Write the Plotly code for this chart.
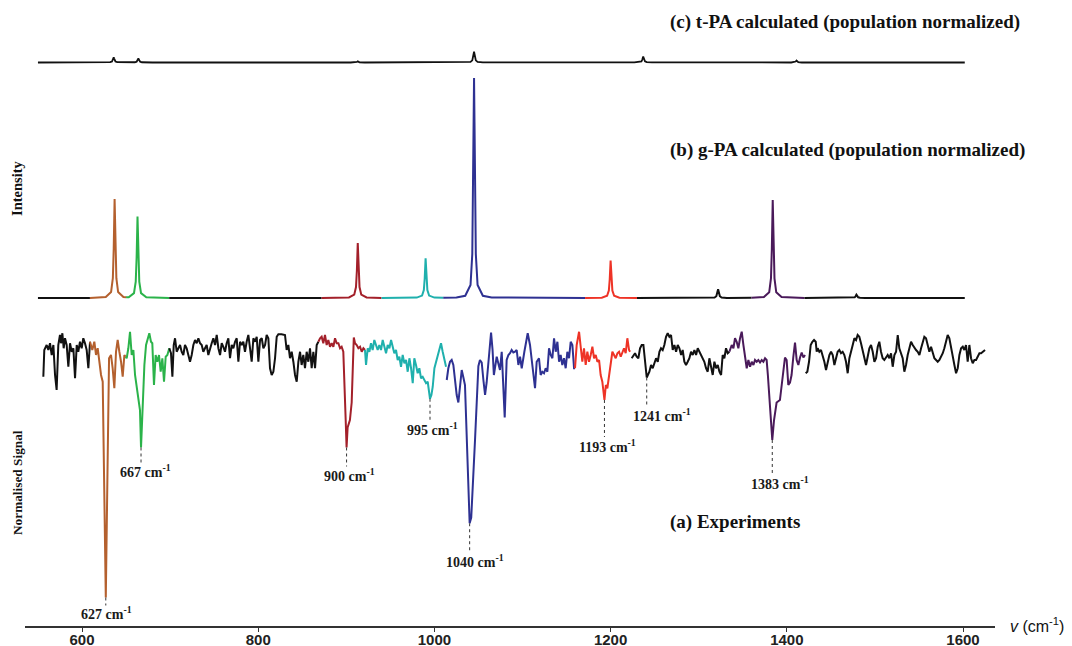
import plotly.graph_objects as go

# ---------------- experimental spectrum (a): (wavenumber cm-1, normalised signal) ----------------
exp_black1 = [(556.1, 0.893), (557.2, 1.0), (559.9, 1.02), (561.8, 1.0), (563.7, 1.027), (565.6, 0.98),
              (567.5, 1.02), (569.4, 0.9), (571.2, 0.84), (573.1, 1.02), (575.0, 1.06), (576.2, 1.027),
              (577.7, 1.067), (579.2, 1.007), (580.7, 1.047), (582.6, 1.02), (584.5, 0.933), (586.4, 1.027),
              (588.3, 0.993), (590.2, 1.007), (592.1, 0.887), (594.0, 1.02), (595.8, 0.993), (597.7, 1.033),
              (599.6, 1.007), (601.5, 1.047), (603.4, 1.027), (605.3, 1.0), (607.2, 0.927), (609.1, 1.033)]
exp_brown = [(609.1, 1.033), (611.7, 1.0), (614.0, 1.033), (615.9, 0.98), (617.8, 1.007), (619.7, 0.953),
             (621.6, 0.9), (623.5, 0.873), (627.0, 0.01), (630.7, 0.967), (632.9, 0.98), (634.8, 0.927),
             (636.7, 0.847), (638.6, 0.993), (640.5, 1.04), (642.4, 0.993), (644.3, 0.953), (646.2, 0.893),
             (648.1, 0.98), (649.6, 0.973)]
exp_green = [(649.6, 0.973), (650.7, 0.967), (652.6, 1.007), (654.5, 1.073), (656.4, 0.98), (658.3, 1.0),
             (660.2, 0.9), (662.1, 0.853), (664.0, 0.8), (665.8, 0.76), (667.0, 0.61), (668.8, 0.78),
             (670.8, 0.94), (672.7, 1.02), (674.5, 1.047), (676.4, 1.067), (678.3, 1.033), (679.8, 1.027),
             (681.7, 0.86), (683.6, 0.98), (685.5, 0.953), (687.4, 0.98), (689.3, 0.913), (691.2, 0.967),
             (693.1, 0.873), (695.0, 0.973), (696.9, 0.98), (699.1, 1.007)]
exp_black2 = [(699.1, 1.007), (701.0, 0.987), (702.6, 0.893), (704.1, 1.02), (705.6, 1.047), (707.5, 0.993),
              (709.4, 1.007), (711.3, 1.02), (713.1, 0.993), (715.0, 0.98), (716.9, 1.02), (718.8, 1.007),
              (720.7, 0.98), (722.6, 0.953), (724.5, 0.98), (726.4, 1.02), (728.3, 1.04), (730.2, 1.027),
              (732.1, 1.047), (734.0, 1.027), (735.9, 1.02), (737.7, 0.993), (739.6, 1.007), (741.5, 1.02),
              (743.4, 0.98), (745.3, 1.007), (747.2, 1.027), (749.1, 1.047), (751.0, 1.02), (752.9, 1.06),
              (754.8, 1.007), (756.7, 0.98), (758.6, 1.027), (760.4, 1.013), (762.3, 0.993), (764.2, 1.027),
              (766.1, 1.047), (768.0, 0.967), (769.9, 1.02), (771.8, 1.007), (773.7, 1.033), (775.6, 1.047),
              (777.5, 0.953), (779.4, 1.033), (781.3, 1.02), (783.1, 1.033), (785.0, 0.993), (786.9, 1.033),
              (788.8, 1.06), (790.7, 1.007), (792.6, 0.953), (794.5, 1.047), (796.4, 1.033), (798.3, 1.053),
              (800.2, 0.953), (802.1, 1.04), (804.0, 1.047), (805.9, 1.007), (807.8, 1.02), (809.6, 1.06),
              (811.5, 1.047), (813.4, 0.927), (815.3, 0.9), (817.2, 0.913), (819.1, 0.967), (821.0, 1.053),
              (822.9, 1.063), (826.5, 1.063), (830.4, 1.06), (832.3, 1.0), (834.2, 1.02), (836.1, 0.967),
              (838.0, 0.993), (839.9, 0.953), (841.8, 0.9), (843.7, 0.873), (845.6, 0.953), (847.5, 0.993),
              (849.3, 0.94), (851.2, 0.98), (853.1, 0.927), (855.0, 0.993), (856.9, 0.953), (858.8, 1.007),
              (860.7, 0.927), (862.6, 0.993), (864.5, 0.927), (866.4, 1.02), (868.3, 1.033)]
exp_darkred = [(868.3, 1.033), (870.2, 1.047), (872.0, 1.053), (873.9, 1.027), (875.8, 1.06), (877.7, 1.02),
               (879.6, 1.04), (881.5, 1.013), (883.4, 1.027), (885.3, 1.013), (887.2, 1.047), (889.1, 1.027),
               (891.0, 1.027), (892.9, 1.007), (894.7, 1.013), (896.6, 0.993), (899.3, 0.72), (900.3, 0.61),
               (901.5, 0.69), (904.1, 0.72), (906.1, 0.79), (908.5, 1.05), (909.9, 1.027), (911.8, 1.02),
               (913.7, 1.007), (915.6, 1.013), (917.5, 0.993), (919.4, 1.007), (921.2, 1.0)]
exp_cyan = [(921.2, 1.0), (922.4, 0.94), (924.3, 1.007), (926.2, 0.993), (928.0, 1.027), (929.9, 1.0),
            (931.8, 1.04), (933.7, 1.02), (935.6, 1.0), (937.5, 1.02), (939.4, 1.0), (941.3, 1.04),
            (943.2, 1.013), (945.1, 0.987), (947.0, 1.02), (948.9, 1.007), (950.8, 1.04), (952.6, 1.007),
            (954.5, 0.987), (956.4, 1.0), (958.3, 0.96), (960.2, 0.973), (962.1, 0.933), (964.0, 0.98),
            (965.9, 0.947), (967.8, 0.96), (969.7, 0.913), (971.6, 0.967), (973.5, 0.927), (975.4, 0.867),
            (977.2, 0.967), (979.1, 0.94), (981.0, 0.907), (982.9, 0.927), (984.8, 0.887), (986.7, 0.893),
            (988.6, 0.88), (990.5, 0.867), (992.4, 0.873), (995.0, 0.805), (996.6, 0.82), (998.1, 0.853),
            (1000.0, 0.927), (1001.8, 0.953), (1003.7, 0.98), (1005.6, 1.0), (1007.5, 1.027), (1009.4, 0.993),
            (1011.3, 0.967), (1013.2, 0.933)]
exp_blue = [(1014.0, 0.88), (1015.8, 0.927), (1017.7, 0.953), (1019.6, 0.96), (1021.5, 0.94), (1023.4, 0.87),
            (1025.3, 0.82), (1027.2, 0.79), (1029.1, 0.87), (1031.0, 0.92), (1032.9, 0.89), (1034.7, 0.86),
            (1040.0, 0.307), (1041.8, 0.33), (1046.1, 0.64), (1049.9, 0.935), (1051.7, 0.96), (1053.7, 0.95),
            (1055.6, 0.88), (1057.5, 0.82), (1059.3, 0.87), (1061.2, 0.94), (1064.3, 1.07), (1066.0, 1.0),
            (1067.5, 0.9), (1070.7, 0.973), (1072.6, 0.95), (1074.4, 0.92), (1076.4, 0.993), (1079.8, 0.73),
            (1082.0, 0.96), (1084.0, 0.98), (1085.8, 0.987), (1087.7, 1.0), (1089.6, 0.99), (1091.5, 0.993),
            (1093.4, 1.0), (1095.3, 0.94), (1097.2, 0.973), (1099.1, 0.927), (1102.1, 0.993), (1105.9, 1.067),
            (1108.5, 1.02), (1110.4, 0.967), (1112.3, 0.913), (1114.2, 0.847), (1116.1, 0.953), (1118.7, 0.967),
            (1120.6, 0.9), (1122.5, 0.913), (1124.4, 0.907), (1126.3, 0.927), (1128.2, 0.913), (1130.1, 1.007),
            (1132.0, 0.98), (1133.9, 0.967), (1135.8, 1.047), (1137.7, 0.993), (1139.6, 1.033), (1141.5, 0.953),
            (1143.3, 0.98), (1145.2, 0.94), (1147.1, 0.967), (1149.0, 0.927), (1150.9, 0.993), (1152.8, 0.967),
            (1154.7, 1.033), (1156.6, 1.02), (1158.5, 0.927), (1159.6, 0.927)]
exp_red = [(1159.6, 0.927), (1161.5, 1.02), (1164.2, 1.073), (1166.0, 1.02), (1167.9, 0.953), (1169.8, 1.007),
           (1171.7, 0.94), (1173.6, 0.993), (1175.5, 0.953), (1177.4, 0.98), (1179.3, 1.013), (1181.2, 0.967),
           (1183.1, 0.98), (1185.0, 0.953), (1186.9, 0.96), (1188.7, 0.9), (1190.6, 0.873), (1193.0, 0.8),
           (1194.6, 0.86), (1196.3, 0.847), (1198.2, 0.9), (1200.1, 0.953), (1202.0, 0.993), (1203.9, 0.98),
           (1205.8, 0.967), (1207.7, 0.987), (1209.6, 0.993), (1211.5, 0.973), (1213.3, 0.993), (1215.2, 1.007),
           (1217.1, 0.987), (1219.0, 1.047), (1220.9, 1.0), (1222.1, 0.993)]
exp_black3 = [(1223.9, 0.967), (1225.8, 0.98), (1227.7, 0.987), (1229.6, 0.973), (1231.5, 0.967),
              (1233.4, 1.007), (1235.3, 1.02), (1237.2, 1.02), (1239.1, 0.953), (1241.0, 0.89), (1244.0, 0.913),
              (1245.9, 0.94), (1247.8, 0.927), (1249.7, 0.953), (1251.6, 0.967), (1253.5, 0.953), (1255.4, 0.993),
              (1257.2, 1.007), (1259.1, 1.0), (1261.0, 1.02), (1262.9, 1.053), (1264.8, 1.067), (1266.7, 1.053),
              (1268.6, 1.06), (1270.5, 1.0), (1272.4, 1.02), (1274.3, 0.993), (1276.2, 1.02), (1278.1, 1.007),
              (1280.0, 0.98), (1281.8, 1.0), (1283.7, 0.953), (1285.6, 0.94), (1287.5, 0.953), (1289.4, 0.967),
              (1291.3, 0.993), (1293.2, 0.98), (1295.1, 1.0), (1297.0, 0.98), (1298.9, 1.007), (1300.8, 0.993),
              (1302.7, 0.98), (1304.6, 0.967), (1306.4, 0.953), (1308.3, 0.927), (1310.2, 0.913), (1312.1, 0.967),
              (1314.0, 0.927), (1315.9, 0.9), (1317.8, 0.953), (1319.7, 0.927), (1321.6, 0.94), (1323.5, 0.913),
              (1325.4, 0.9), (1327.2, 0.98), (1329.1, 0.967), (1331.0, 1.007), (1332.9, 0.987), (1334.8, 0.993)]
exp_purple = [(1334.8, 0.993), (1337.5, 1.02), (1339.4, 1.007), (1341.2, 1.047), (1343.1, 1.033), (1345.0, 1.007),
              (1346.9, 1.047), (1348.8, 1.073), (1350.7, 1.02), (1352.6, 0.967), (1354.5, 0.927), (1356.4, 0.96),
              (1358.3, 0.933), (1360.2, 0.953), (1362.1, 0.94), (1363.9, 0.96), (1365.8, 0.953), (1367.7, 0.96),
              (1369.6, 0.95), (1371.5, 0.96), (1373.4, 0.953), (1375.3, 0.967), (1377.1, 0.96), (1378.5, 0.9),
              (1382.6, 0.65), (1383.5, 0.64), (1385.5, 0.72), (1388.4, 0.79), (1392.2, 0.8), (1396.0, 0.92),
              (1397.9, 0.97), (1399.8, 0.96), (1401.7, 0.86), (1403.6, 0.87), (1405.4, 0.9), (1407.3, 0.97),
              (1409.3, 1.03), (1411.2, 0.96), (1413.1, 0.94), (1415.0, 0.97), (1416.9, 0.99), (1418.8, 0.97),
              (1420.7, 0.98)]
exp_black4 = [(1421.4, 0.907), (1423.3, 0.913), (1425.2, 0.953), (1427.1, 1.02), (1429.0, 1.033), (1430.9, 1.04),
              (1432.8, 1.033), (1433.9, 0.993), (1435.0, 1.007), (1436.9, 0.993), (1438.8, 1.0), (1440.7, 0.98),
              (1442.6, 0.953), (1444.5, 0.92), (1446.4, 0.953), (1448.3, 0.98), (1450.2, 0.993), (1452.1, 0.98),
              (1454.0, 0.94), (1455.9, 0.973), (1457.7, 0.993), (1459.6, 1.0), (1461.5, 0.987), (1463.4, 0.993),
              (1465.3, 0.98), (1467.2, 0.953), (1469.1, 0.907), (1471.0, 0.967), (1472.9, 1.0), (1474.8, 1.02),
              (1476.7, 1.047), (1478.6, 1.04), (1480.4, 1.06), (1482.3, 1.053), (1484.2, 1.027), (1486.1, 0.993),
              (1488.0, 0.967), (1489.9, 0.94), (1491.8, 0.973), (1493.7, 1.007), (1495.6, 1.02), (1497.5, 0.993),
              (1499.4, 0.953), (1501.3, 0.967), (1503.2, 1.013), (1505.0, 1.033), (1506.9, 0.993), (1508.8, 0.967),
              (1510.7, 0.96), (1512.6, 0.973), (1514.5, 0.98), (1516.4, 0.967), (1518.3, 0.987), (1520.2, 0.933),
              (1522.1, 0.98), (1524.0, 0.993), (1525.9, 1.06), (1527.7, 1.007), (1529.6, 0.987), (1531.5, 0.967),
              (1533.4, 0.913), (1535.3, 0.94), (1537.2, 0.98), (1539.1, 1.007), (1541.0, 1.033), (1542.9, 1.02),
              (1544.8, 1.007), (1546.7, 1.0), (1548.6, 0.993), (1550.5, 0.98), (1552.4, 1.007), (1554.2, 1.033),
              (1556.1, 1.053), (1558.0, 1.047), (1559.9, 1.02), (1561.8, 0.993), (1563.7, 1.013), (1565.6, 0.987),
              (1567.5, 0.967), (1569.4, 0.96), (1571.3, 0.953), (1573.2, 0.96), (1575.1, 0.973), (1577.0, 0.987),
              (1578.8, 1.007), (1580.7, 1.033), (1582.6, 1.06), (1584.5, 1.047), (1586.4, 1.007), (1588.3, 0.967),
              (1590.2, 0.94), (1592.1, 0.907), (1594.0, 0.927), (1595.9, 0.98), (1597.8, 1.007), (1599.7, 1.013),
              (1601.5, 1.0), (1603.4, 1.02), (1605.3, 0.953), (1607.2, 1.02), (1609.1, 0.967), (1611.0, 0.947),
              (1612.9, 0.96), (1614.8, 0.96), (1616.7, 0.973), (1618.6, 0.987), (1620.5, 0.987), (1622.3, 0.993),
              (1625.0, 1.0)]

# ---------------- calculated g-PA spectrum (b): (wavenumber, intensity) ----------------
gpa_black1 = [(550, 0.0), (609, 0.0)]
gpa_brown = [(609, 0.0), (627, 0.0045), (633, 0.027), (635, 0.09), (636, 0.225), (636.5, 0.36), (637, 0.45),
             (637.5, 0.36), (638, 0.225), (639, 0.09), (641, 0.027), (647, 0.0045), (650, 0.003)]
gpa_green = [(650, 0.003), (653, 0.0037), (659, 0.022), (661, 0.074), (662, 0.185), (662.5, 0.296), (663, 0.37),
             (663.5, 0.296), (664, 0.185), (665, 0.074), (667, 0.022), (673, 0.0037), (699, 0.0)]
gpa_black2 = [(699, 0.0), (872, 0.0)]
gpa_darkred = [(872, 0.0), (903, 0.0025), (909, 0.015), (911, 0.05), (912, 0.125), (912.5, 0.2), (913, 0.25),
               (913.5, 0.2), (914, 0.125), (915, 0.05), (917, 0.015), (923, 0.0025), (940, 0.0)]
gpa_cyan = [(940, 0.0), (980, 0.0018), (986, 0.011), (988, 0.036), (989, 0.09), (989.5, 0.144), (990, 0.18),
            (990.5, 0.144), (991, 0.09), (992, 0.036), (994, 0.011), (1000, 0.0018), (1010, 0.001)]
gpa_blue = [(1010, 0.001), (1025, 0.0025), (1035, 0.01), (1041, 0.059), (1043, 0.2), (1044, 0.5), (1044.5, 0.8),
            (1045, 1.0), (1045.5, 0.8), (1046, 0.5), (1047, 0.2), (1049, 0.059), (1055, 0.01), (1065, 0.0025),
            (1171, 0.0)]
gpa_red = [(1171, 0.0), (1190, 0.0017), (1196, 0.01), (1198, 0.034), (1199, 0.085), (1199.5, 0.136), (1200, 0.17),
           (1200.5, 0.136), (1201, 0.085), (1202, 0.034), (1204, 0.01), (1210, 0.0017), (1230, 0.0)]
gpa_black3 = [(1230, 0.0), (1312, 0.0004), (1318, 0.0024), (1320, 0.008), (1321, 0.02), (1321.5, 0.032),
              (1322, 0.04), (1322.5, 0.032), (1323, 0.02), (1324, 0.008), (1326, 0.0024), (1332, 0.0004),
              (1360, 0.0008)]
gpa_purple = [(1360, 0.0008), (1374, 0.0045), (1380, 0.026), (1382, 0.089), (1383, 0.2225), (1383.5, 0.356),
              (1384, 0.445), (1384.5, 0.356), (1385, 0.2225), (1386, 0.089), (1388, 0.026), (1394, 0.0045),
              (1420, 0.0005)]
gpa_black4 = [(1420, 0.0005), (1469, 0.00015), (1475, 0.0009), (1477, 0.003), (1478, 0.0075), (1478.5, 0.012),
              (1479, 0.015), (1479.5, 0.012), (1480, 0.0075), (1481, 0.003), (1483, 0.0009), (1489, 0.00015),
              (1602, 0.0)]

# ---------------- calculated t-PA spectrum (c) ----------------
tpa = [(550, 0.0), (626, 0.0002), (632, 0.0014), (634, 0.0046), (635, 0.0115), (635.5, 0.018), (636, 0.023),
       (636.5, 0.018), (637, 0.0115), (638, 0.0046), (640, 0.0014), (646, 0.0003), (654, 0.0003), (660, 0.0011),
       (662, 0.0036), (663, 0.009), (663.5, 0.0144), (664, 0.018), (664.5, 0.0144), (665, 0.009), (666, 0.0036),
       (668, 0.0011), (680, 0.0001), (905, 0.0001), (911, 0.001), (912, 0.0025), (913, 0.005), (914, 0.0025),
       (915, 0.001), (921, 0.0001), (1035, 0.0005), (1041, 0.0029), (1043, 0.0098), (1044, 0.0245),
       (1044.5, 0.039), (1045, 0.049), (1045.5, 0.039), (1046, 0.0245), (1047, 0.0098), (1049, 0.0029),
       (1055, 0.0005), (1227, 0.0003), (1233, 0.0016), (1235, 0.0054), (1236, 0.0135), (1236.5, 0.0216),
       (1237, 0.027), (1237.5, 0.0216), (1238, 0.0135), (1239, 0.0054), (1241, 0.0016), (1247, 0.0003),
       (1405, 0.0001), (1409, 0.0018), (1410, 0.0045), (1411, 0.009), (1412, 0.0045), (1413, 0.0018),
       (1417, 0.0001), (1602, 0.0)]

# labelled experimental bands
label_wn = [627, 667, 900, 995, 1040, 1193, 1241, 1383]
x_ticks = [600, 800, 1000, 1200, 1400, 1600]

# ---------------- styles ----------------
C_BLACK = "#111111"
C_BROWN = "#b4602e"
C_GREEN = "#2bb34a"
C_DARKRED = "#a3202a"
C_CYAN = "#1fb0ad"
C_BLUE = "#2e3192"
C_RED = "#ee3326"
C_PURPLE = "#4a1a5a"
SERIF = "Liberation Serif, Times New Roman, serif"
SANS = "Liberation Sans, Arial, sans-serif"

exp_segments = [(exp_black1, C_BLACK), (exp_brown, C_BROWN), (exp_green, C_GREEN), (exp_black2, C_BLACK),
                (exp_darkred, C_DARKRED), (exp_cyan, C_CYAN), (exp_blue, C_BLUE), (exp_red, C_RED),
                (exp_black3, C_BLACK), (exp_purple, C_PURPLE), (exp_black4, C_BLACK)]
gpa_segments = [(gpa_black1, C_BLACK), (gpa_brown, C_BROWN), (gpa_green, C_GREEN), (gpa_black2, C_BLACK),
                (gpa_darkred, C_DARKRED), (gpa_cyan, C_CYAN), (gpa_blue, C_BLUE), (gpa_red, C_RED),
                (gpa_black3, C_BLACK), (gpa_purple, C_PURPLE), (gpa_black4, C_BLACK)]

fig = go.Figure()
for seg, col in exp_segments:
    fig.add_trace(go.Scatter(x=[p[0] for p in seg], y=[p[1] for p in seg], mode="lines",
                             line=dict(color=col, width=2), yaxis="y", hoverinfo="skip"))
for seg, col in gpa_segments:
    fig.add_trace(go.Scatter(x=[p[0] for p in seg], y=[p[1] for p in seg], mode="lines",
                             line=dict(color=col, width=2), yaxis="y2", hoverinfo="skip"))
fig.add_trace(go.Scatter(x=[p[0] for p in tpa], y=[p[1] for p in tpa], mode="lines",
                         line=dict(color=C_BLACK, width=1.8), yaxis="y3", hoverinfo="skip"))

# dotted leaders + labels anchored on the minima of the experimental data
all_exp = [p for seg, _ in exp_segments for p in seg]
label_line_px = [8, 15, 19, 21, 29, 37, 29, 34]
label_yshift = [-16, -24, -28, -30, -38, -46, -38, -43]
label_xshift = [1, 4, 3, 2, 5, 3, 15, 8]
shapes = []
annotations = []
for wn, L, ys, xs in zip(label_wn, label_line_px, label_yshift, label_xshift):
    near = [p for p in all_exp if abs(p[0] - wn) <= 3]
    px_, py_ = min(near, key=lambda p: p[1])
    shapes.append(dict(type="line", xref="x", yref="y", x0=px_, x1=px_, ysizemode="pixel", yanchor=py_,
                       y0=0, y1=-L, line=dict(color="#333333", width=1, dash="dot")))
    annotations.append(dict(x=px_, y=py_, xref="x", yref="y", yshift=ys, xshift=xs, showarrow=False,
                            text=f"<b>{wn} cm<sup>-1</sup></b>",
                            font=dict(family=SERIF, size=14, color="#1a1a1a"),
                            xanchor="center", yanchor="middle"))

title_font = dict(family=SERIF, size=19, color="#111111")
annotations += [
    dict(xref="paper", yref="paper", x=0.6629, y=0.9649, xanchor="left", yanchor="middle", showarrow=False,
         text="<b>(c) t-PA calculated (population normalized)</b>", font=title_font),
    dict(xref="paper", yref="paper", x=0.6629, y=0.7604, xanchor="left", yanchor="middle", showarrow=False,
         text="<b>(b) g-PA calculated (population normalized)</b>", font=title_font),
    dict(xref="paper", yref="paper", x=0.6629, y=0.1661, xanchor="left", yanchor="middle", showarrow=False,
         text="<b>(a) Experiments</b>", font=title_font),
    dict(xref="paper", yref="paper", x=0, xshift=-8, y=0.6997, xanchor="center", yanchor="middle",
         showarrow=False, textangle=-90, text="<b>Intensity</b>",
         font=dict(family=SERIF, size=14.5, color="#111111")),
    dict(xref="paper", yref="paper", x=0, xshift=-8, y=0.2284, xanchor="center", yanchor="middle",
         showarrow=False, textangle=-90, text="<b>Normalised Signal</b>",
         font=dict(family=SERIF, size=13.3, color="#111111")),
    dict(xref="paper", yref="paper", x=1, xshift=13, y=0, yshift=1, xanchor="left", yanchor="middle",
         showarrow=False, text="<i>v</i> (cm<sup>-1</sup>)",
         font=dict(family=SANS, size=16, color="#111111")),
]

fig.update_layout(
    width=1072, height=646,
    margin=dict(l=25, r=77, t=0, b=20),
    paper_bgcolor="white", plot_bgcolor="white",
    showlegend=False,
    xaxis=dict(range=[535.3, 1636.3], tickvals=x_ticks, ticktext=[str(t) for t in x_ticks],
               showline=True, linecolor="#333333", linewidth=1.6, ticks="outside", ticklen=4,
               tickcolor="#333333", tickwidth=1.2, showgrid=False, zeroline=False, anchor="y",
               ticklabelstandoff=-5,
               tickfont=dict(family=SANS, size=15, color="#222222", weight="bold"), automargin=False),
    yaxis=dict(domain=[0, 0.48882], range=[-0.104, 1.12], visible=False, fixedrange=True),
    yaxis2=dict(domain=[0.51278, 0.88818], range=[-0.0318, 1.0364], visible=False, anchor="x"),
    yaxis3=dict(domain=[0.88818, 0.93610], range=[-0.0341, 0.1023], visible=False, anchor="x"),
    shapes=shapes,
    annotations=annotations,
)

fig.write_html("out.html", config={"displayModeBar": False},
               post_script="document.body.style.margin='0px';")
